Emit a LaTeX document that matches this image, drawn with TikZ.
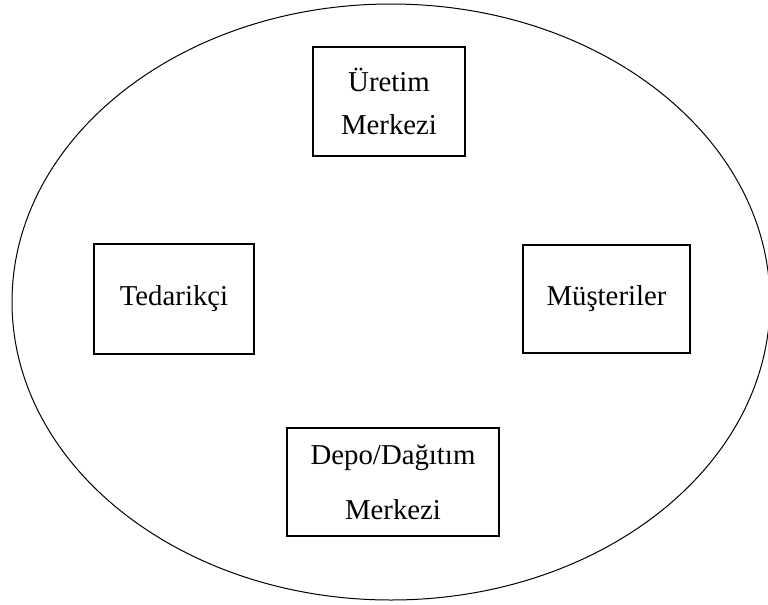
\documentclass[tikz,border=0pt]{standalone}
\usepackage{fontspec}
\setmainfont{Liberation Serif}
\tikzset{
  unitbox/.style={draw, rectangle, line width=1.1pt, inner sep=0pt, align=center,
    font=\fontsize{21.6}{25.5}\selectfont},
  outline/.style={line width=0.75pt}
}

\begin{document}
\begin{tikzpicture}[x=0.75pt, y=-0.75pt]
  \useasboundingbox (0,0) rectangle (768,604);
  % outer ellipse
  \draw[outline] (391,302) ellipse [x radius=284.25pt, y radius=223.5pt];

  % boxes
  \node[unitbox, minimum width=114pt, minimum height=81.75pt] (uretim) at (389,101.5)
    {\"Uretim\\[7pt]Merkezi};
  \node[unitbox, minimum width=120pt, minimum height=82.5pt] (tedarikci) at (174,299)
    {Tedarik\c{c}i};
  \node[unitbox, minimum width=125.25pt, minimum height=81pt] (musteriler) at (606.5,299)
    {M\"u\c{s}teriler};
  \node[unitbox, minimum width=159pt, minimum height=81pt] (depo) at (393,482)
    {Depo/Da\u{g}\i t\i m\\[16pt]Merkezi};
\end{tikzpicture}
\end{document}
